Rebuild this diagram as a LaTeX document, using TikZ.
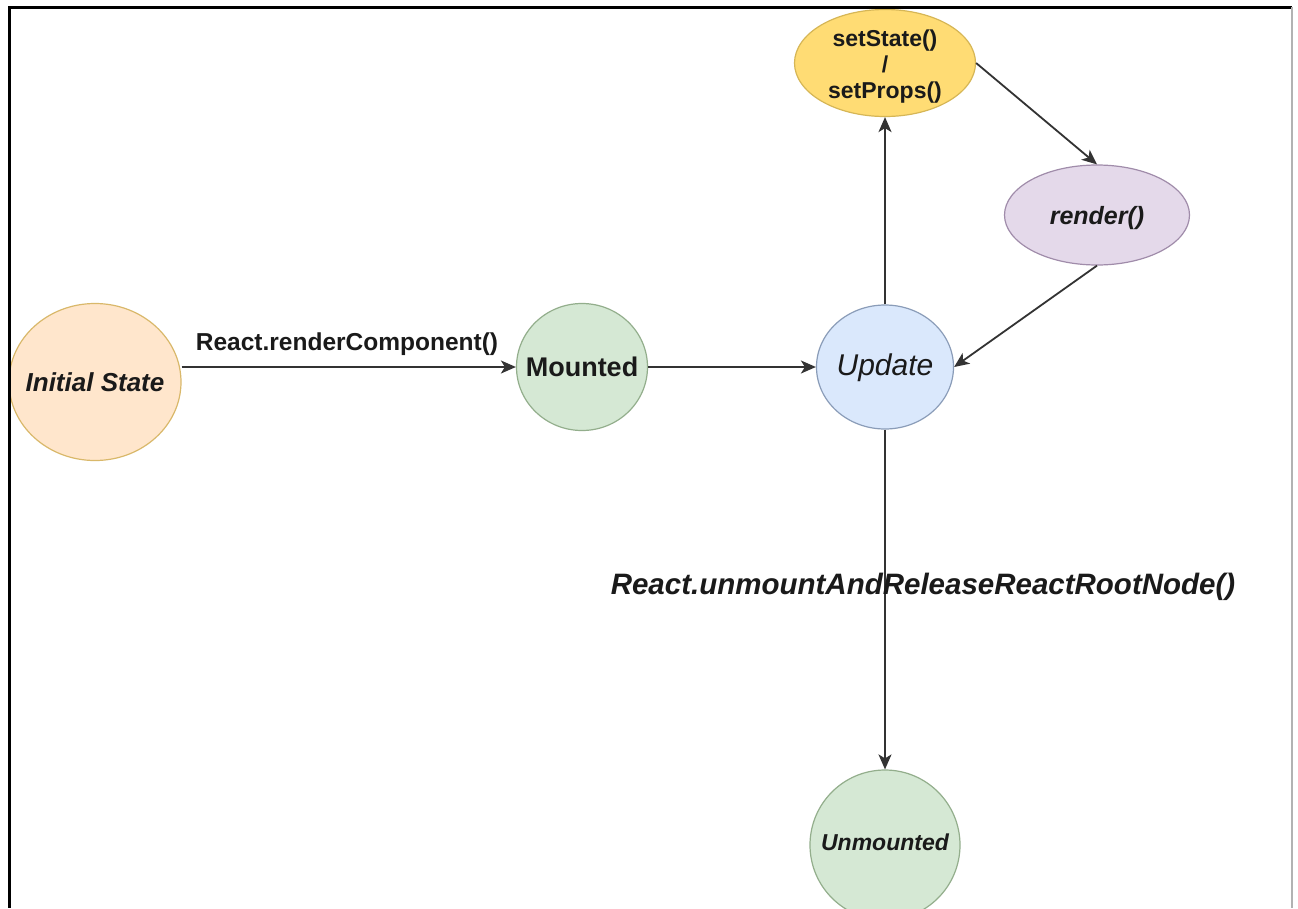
\documentclass[tikz,border=0pt]{standalone}
\usepackage{fontspec}
\setmainfont{Liberation Sans}
\usetikzlibrary{shapes.geometric,arrows.meta}
\definecolor{txt}{HTML}{1A1A1A}
\definecolor{edge}{HTML}{333333}
\definecolor{peachF}{HTML}{FFE6CC}
\definecolor{peachD}{HTML}{D9B86A}
\definecolor{greenF}{HTML}{D5E8D4}
\definecolor{greenD}{HTML}{93AE8C}
\definecolor{blueF}{HTML}{DAE8FC}
\definecolor{blueD}{HTML}{8A9CB8}
\definecolor{yelF}{HTML}{FFDC74}
\definecolor{yelD}{HTML}{D6B656}
\definecolor{purF}{HTML}{E4D9EA}
\definecolor{purD}{HTML}{A08CAA}
\tikzset{
  state/.style={ellipse, inner sep=0pt, line width=1.2pt},
  stxt/.style={text=txt, align=center, inner sep=0pt},
  arr/.style={draw=edge, line width=1.8pt, -{Stealth[length=15pt,width=13pt,inset=4pt]}},
  lbl/.style={text=txt, inner sep=0pt},
}
\newcommand{\fsz}[1]{\fontsize{#1}{#1}\selectfont}
\begin{document}
\begin{tikzpicture}[x=1pt,y=-1pt]
\clip (0,0) rectangle (1298,908);
\useasboundingbox (0,0) rectangle (1298,908);
\fill[white] (0,0) rectangle (1298,908);

\node[state, fill=peachF, draw=peachD, minimum width=172pt, minimum height=157pt,
      label={[stxt, font=\fsz{26}\bfseries\itshape]center:Initial State}] (init) at (95,382) {};
\node[state, fill=greenF, draw=greenD, minimum width=131pt, minimum height=127pt,
      label={[stxt, font=\fsz{27}\bfseries]center:Mounted}] (mounted) at (582,367) {};
\node[state, fill=blueF, draw=blueD, minimum width=137pt, minimum height=124pt,
      label={[stxt, font=\fsz{30}\itshape, yshift=-1pt]center:Update}] (update) at (885,367) {};
\node[state, fill=yelF, draw=yelD, minimum width=181pt, minimum height=107pt,
      label={[stxt, font=\fontsize{23}{26}\selectfont\bfseries, yshift=-4pt]center:setState()\\/\\setProps()}] (setst) at (885,63) {};
\node[state, fill=purF, draw=purD, minimum width=185pt, minimum height=100pt,
      label={[stxt, font=\fsz{25}\bfseries\itshape, yshift=-3pt]center:render()}] (render) at (1097,215) {};
\node[state, fill=greenF, draw=greenD, minimum width=150pt, minimum height=150pt,
      label={[stxt, font=\fsz{23}\bfseries\itshape, yshift=3pt]center:Unmounted}] (unmount) at (885,845) {};

\draw[arr] (init.east |- mounted.west) -- (mounted.west);
\draw[arr] (mounted) -- (update);
\draw[arr] (update) -- (setst);
\draw[arr] (setst.east) -- (render.north);
\draw[arr] (render.south) -- (update.east);
\draw[arr] (update) -- (unmount);

\node[lbl, font=\fsz{24.5}\bfseries] (l1) at (347,344) {React.renderComponent()};
\node[lbl, font=\fsz{29.5}\bfseries\itshape] (l2) at (923,587) {React.unmountAndReleaseReactRootNode()};

% frame
\draw[black, line width=3pt] (8,7) -- (1292,7);
\draw[black, line width=3pt] (9,7) -- (9,908);
\draw[black!30, line width=2pt] (1292,7) -- (1292,908);
\end{tikzpicture}
\end{document}
